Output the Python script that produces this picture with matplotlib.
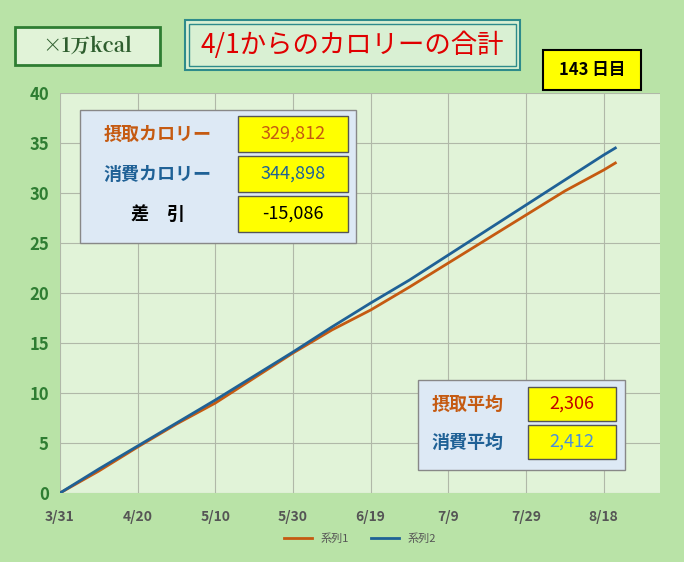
import matplotlib
matplotlib.use("Agg")
import matplotlib.pyplot as plt
from matplotlib.patches import Rectangle

plt.rcParams['font.family'] = ['Noto Sans CJK JP']

days = [0, 10, 20, 30, 40, 50, 60, 70, 80, 90, 100, 110, 120, 130, 140, 143]
intake = [0, 2.2, 4.6, 6.9, 9.0, 11.5, 14.0, 16.3, 18.3, 20.6, 23.0, 25.4, 27.8, 30.2, 32.3, 33.0]
consume = [0, 2.4, 4.7, 7.0, 9.3, 11.7, 14.1, 16.6, 19.0, 21.3, 23.8, 26.3, 28.8, 31.3, 33.8, 34.5]
tick_days = [0, 20, 40, 60, 80, 100, 120, 140]
tick_labels = ["3/31", "4/20", "5/10", "5/30", "6/19", "7/9", "7/29", "8/18"]
summary_labels = ["摂取カロリー", "消費カロリー", "差　引"]
summary_values = ["329,812", "344,898", "-15,086"]
avg_labels = ["摂取平均", "消費平均"]
avg_values = ["2,306", "2,412"]

c1 = "#c55a11"; c2 = "#1f6196"
fig = plt.figure(figsize=(6.84, 5.62), dpi=100, facecolor="#b9e3a7")
ax = fig.add_axes([60/684, 1-493/562, 600/684, 400/562], facecolor="#e1f3d8")
ax.plot(days, intake, color=c1, lw=2, label="系列1")
ax.plot(days, consume, color=c2, lw=2, label="系列2")
ax.set_xlim(0, 154.5); ax.set_ylim(0, 40)
ax.set_xticks(tick_days); ax.set_xticklabels(tick_labels, fontsize=10, color="#555555", fontweight="bold")
ax.set_yticks(range(0, 41, 5))
ax.tick_params(axis='y', labelsize=12, labelcolor="#2e7d32", length=0, pad=8)
for t in ax.get_yticklabels(): t.set_fontweight("bold")
ax.tick_params(axis='x', length=0, pad=12)
ax.grid(True, color="#b0b8a8", lw=0.8)
for s in ax.spines.values(): s.set_visible(False)
ax.legend(loc="upper center", bbox_to_anchor=(0.5, -0.075), ncol=2, frameon=False, fontsize=8, labelcolor="#555555", handlelength=2.5)

def box(x, y, w, h, fc, ec, lw=1):
    fig.patches.append(Rectangle((x/684, 1-(y+h)/562), w/684, h/562, transform=fig.transFigure, fc=fc, ec=ec, lw=lw))
def txt(x, y, s, **kw):
    fig.text(x/684, 1-y/562, s, **kw)

box(15, 27, 145, 38, "#e1f3d8", "#2e7d32", 2)
txt(87, 46, "×1万kcal", fontsize=14, ha="center", va="center", color="#2e5e2e", fontweight="bold", family="Noto Serif CJK JP")
box(185, 20, 335, 50, "#d9f0d3", "#2e8b8b", 1.5)
box(189, 24, 327, 42, "none", "#2e8b8b", 1)
txt(352, 45, "4/1からのカロリーの合計", fontsize=19, ha="center", va="center", color="#e00000")
box(543, 50, 98, 40, "#ffff00", "black", 1.5)
txt(592, 70, "143 日目", fontsize=12, ha="center", va="center", fontweight="bold")

box(80, 110, 276, 133, "#dde9f5", "#888888", 1)
cols = [c1, c2, "black"]
for i in range(3):
    yc = 134 + i*40
    txt(158, yc, summary_labels[i], fontsize=13, ha="center", va="center", color=cols[i], fontweight="bold")
    box(238, yc-18, 110, 36, "#ffff00", "#555555", 1)
    txt(293, yc, summary_values[i], fontsize=13, ha="center", va="center", color=[c1, c2, "black"][i])

box(418, 380, 207, 90, "#dde9f5", "#888888", 1)
vc = ["#c00000", "#4a90d9"]
for i in range(2):
    yc = 404 + i*38
    txt(468, yc, avg_labels[i], fontsize=13, ha="center", va="center", color=[c1, c2][i], fontweight="bold")
    box(528, yc-17, 88, 34, "#ffff00", "#555555", 1)
    txt(572, yc, avg_values[i], fontsize=13, ha="center", va="center", color=vc[i])
fig.savefig("out.png", dpi=100, facecolor=fig.get_facecolor())
